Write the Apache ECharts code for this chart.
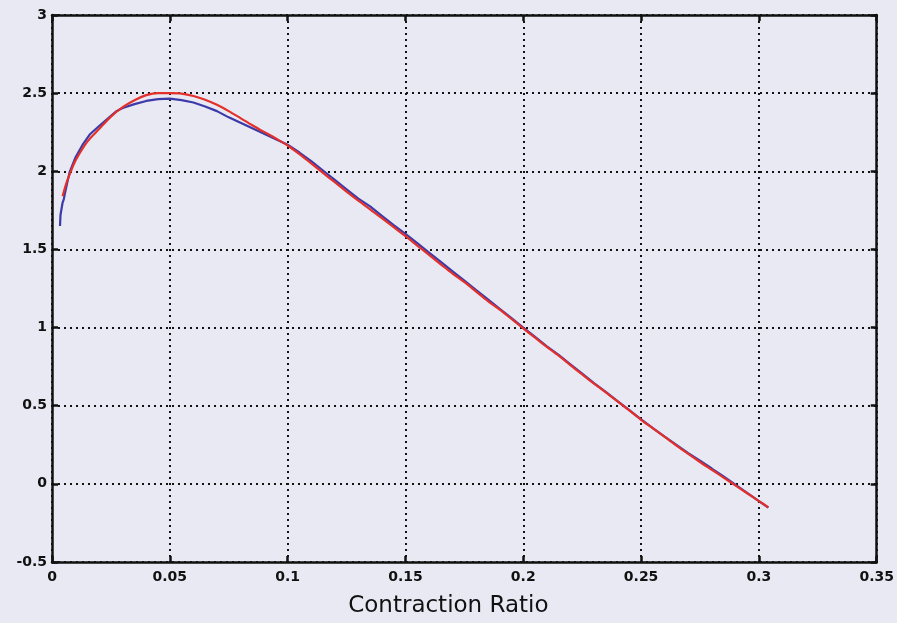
<!DOCTYPE html>
<html>
<head>
<meta charset="utf-8">
<script src="https://cdn.jsdelivr.net/npm/echarts@6/dist/echarts.min.js"></script>
<style>
  html, body { margin: 0; padding: 0; background: #e9e9f3; }
  #chart { width: 897px; height: 623px; }
</style>
</head>
<body>
<div id="chart"></div>
<script>
// Measured curve (blue) and fitted curve (red) against contraction ratio
const blueX = [0.0034, 0.0036, 0.0040, 0.0045, 0.0050, 0.0055, 0.0065, 0.0076, 0.010, 0.013, 0.016, 0.020, 0.025,
  0.0274, 0.030, 0.035, 0.040, 0.045, 0.050, 0.055, 0.060, 0.065, 0.070, 0.075, 0.080, 0.085, 0.090, 0.095, 0.100,
  0.105, 0.110, 0.115, 0.120, 0.125, 0.130, 0.135, 0.140, 0.145, 0.150, 0.155, 0.160, 0.165, 0.170, 0.175, 0.180,
  0.185, 0.190, 0.195, 0.200, 0.205, 0.210, 0.215, 0.220, 0.225, 0.230, 0.235, 0.240, 0.245, 0.250, 0.255, 0.260,
  0.265, 0.270, 0.275, 0.280, 0.285, 0.290, 0.295, 0.300, 0.304];
const blueY = [1.65, 1.72, 1.73, 1.80, 1.82, 1.86, 1.93, 2.00, 2.09, 2.17, 2.235, 2.29, 2.355,
  2.385, 2.405, 2.43, 2.45, 2.462, 2.465, 2.455, 2.44, 2.415, 2.385, 2.345, 2.31, 2.275, 2.24, 2.205, 2.17,
  2.12, 2.065, 2.005, 1.945, 1.885, 1.825, 1.775, 1.715, 1.655, 1.60, 1.54, 1.48, 1.42, 1.36, 1.30, 1.24,
  1.18, 1.12, 1.06, 1.00, 0.94, 0.88, 0.825, 0.765, 0.705, 0.645, 0.588, 0.53, 0.472, 0.413, 0.357, 0.302,
  0.25, 0.197, 0.148, 0.098, 0.047, -0.005, -0.058, -0.11, -0.152];

const redX = [0.0045, 0.006, 0.008, 0.010, 0.015, 0.020, 0.025, 0.030, 0.035, 0.040, 0.045, 0.050, 0.055, 0.060,
  0.065, 0.070, 0.075, 0.080, 0.085, 0.090, 0.095, 0.100, 0.105, 0.110, 0.115, 0.120, 0.125, 0.130, 0.135, 0.140,
  0.145, 0.150, 0.155, 0.160, 0.165, 0.170, 0.175, 0.180, 0.185, 0.190, 0.195, 0.200, 0.205, 0.210, 0.215, 0.220,
  0.225, 0.230, 0.235, 0.240, 0.245, 0.250, 0.255, 0.260, 0.265, 0.270, 0.275, 0.280, 0.285, 0.290, 0.295, 0.300,
  0.304];
const redY = [1.84, 1.92, 2.00, 2.07, 2.19, 2.27, 2.35, 2.41, 2.455, 2.487, 2.50, 2.50, 2.497, 2.482,
  2.458, 2.425, 2.385, 2.34, 2.295, 2.252, 2.21, 2.165, 2.11, 2.05, 1.99, 1.93, 1.87, 1.812, 1.757, 1.70,
  1.642, 1.585, 1.525, 1.465, 1.405, 1.345, 1.29, 1.23, 1.17, 1.115, 1.055, 0.995, 0.935, 0.877, 0.82, 0.76,
  0.70, 0.642, 0.585, 0.527, 0.47, 0.41, 0.355, 0.30, 0.245, 0.192, 0.14, 0.09, 0.04, -0.01, -0.06, -0.11,
  -0.15];

const xTicks = { min: 0, max: 0.35, step: 0.05 };
const yTicks = { min: -0.5, max: 3, step: 0.5 };

const pairs = (xs, ys) => xs.map((x, i) => [x, ys[i]]);

const tickFont = { fontFamily: 'DejaVu Sans', fontWeight: 'bold', fontSize: 14, color: '#111' };
const gridLine = { show: true, lineStyle: { color: '#111', width: 2, type: [2, 4] } };
const frameLine = { show: true, onZero: false, lineStyle: { color: '#111', width: 2.5 } };
const innerTick = { show: true, inside: true, length: 6, lineStyle: { color: '#111', width: 2.5 } };

const chart = echarts.init(document.getElementById('chart'), null, { renderer: 'canvas' });
chart.setOption({
  backgroundColor: '#e9e9f3',
  animation: false,
  grid: { left: 52, right: 19, top: 15, bottom: 58 },
  xAxis: [
    {
      type: 'value', min: xTicks.min, max: xTicks.max, interval: xTicks.step,
      axisLine: frameLine,
      axisTick: innerTick,
      axisLabel: Object.assign({ margin: 8 }, tickFont),
      splitLine: gridLine,
      name: 'Contraction Ratio', nameLocation: 'middle', nameGap: 33,
      nameTextStyle: { fontFamily: 'DejaVu Sans', fontSize: 23, color: '#111', padding: [0, 32, 0, 0] }
    },
    {
      type: 'value', position: 'top', min: xTicks.min, max: xTicks.max, interval: xTicks.step,
      axisLine: frameLine,
      axisTick: innerTick,
      axisLabel: { show: false }, splitLine: { show: false }
    }
  ],
  yAxis: [
    {
      type: 'value', min: yTicks.min, max: yTicks.max, interval: yTicks.step,
      axisLine: frameLine,
      axisTick: innerTick,
      axisLabel: Object.assign({ margin: 5 }, tickFont),
      splitLine: gridLine
    },
    {
      type: 'value', position: 'right', min: yTicks.min, max: yTicks.max, interval: yTicks.step,
      axisLine: frameLine,
      axisTick: innerTick,
      axisLabel: { show: false }, splitLine: { show: false }
    }
  ],
  series: [
    {
      name: 'measured', type: 'line', data: pairs(blueX, blueY), showSymbol: false,
      lineStyle: { color: '#3c3aa8', width: 2.2 }, z: 3
    },
    {
      name: 'fit', type: 'line', data: pairs(redX, redY), showSymbol: false, smooth: 0.3,
      lineStyle: { color: '#e3302b', width: 2.2 }, z: 4
    }
  ]
});
</script>
</body>
</html>
